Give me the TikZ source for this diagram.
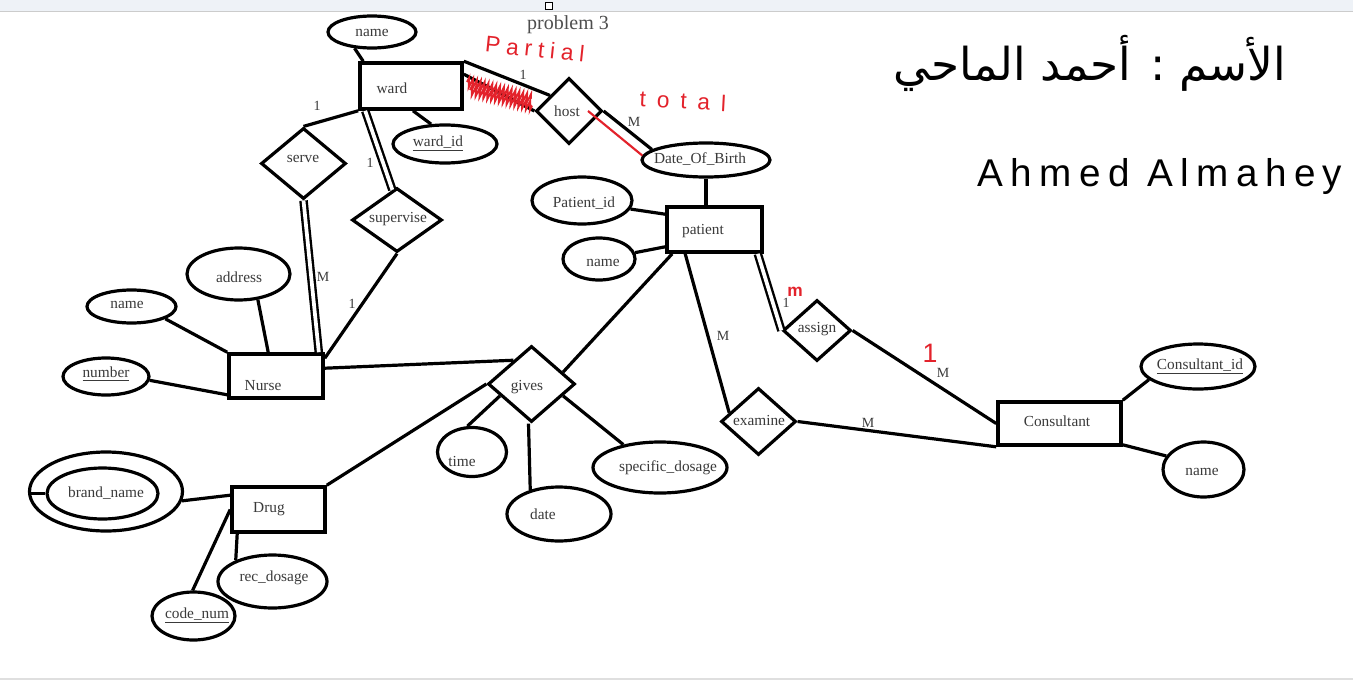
\documentclass[tikz,border=0pt]{standalone}
\usepackage{fontspec}
\setmainfont{Liberation Serif}
\newfontfamily\arabicfont[Script=Arabic]{DejaVu Sans}
\newfontfamily\handfont{Liberation Sans}
\TeXXeTstate=1
\usetikzlibrary{shapes.geometric,calc,decorations.pathmorphing}
\definecolor{ink}{HTML}{3A3A3A}
\definecolor{hred}{HTML}{E3222B}
\definecolor{barbg}{HTML}{EEF2F7}
\begin{document}
\begin{tikzpicture}[x=0.75pt,y=-0.75pt,
  ent/.style={draw, line width=2.7pt, rectangle, inner sep=0pt},
  att/.style={draw, line width=2.4pt, ellipse, inner sep=0pt},
  rel/.style={draw, line width=2.4pt, diamond, inner sep=0pt},
  sz/.style 2 args={minimum width=#1*0.75pt, minimum height=#2*0.75pt},
  lbl/.style={font=\fontsize{11.5}{13}\selectfont, text=ink, inner sep=0pt},
  card/.style={font=\fontsize{10.5}{12}\selectfont, text=ink, inner sep=0pt},
  lnk/.style={line width=2.4pt},
  dbl/.style={line width=1.8pt, double=white, double distance=2.8pt},
  redlnk/.style={line width=1.6pt, hred},
  hand/.style={text=hred, inner sep=0pt}
]
\useasboundingbox (0,0) rectangle (1353,682);
\fill[white] (0,0) rectangle (1353,682);
\fill[barbg] (0,0) rectangle (1353,11);
\draw[gray!40, line width=0.6pt] (0,11) -- (1353,11);
\draw[line width=0.8pt, fill=white] (545.5,2.5) rectangle (552.5,9.5);
\draw[gray!25, line width=1pt] (0,679) -- (1353,679);

% ---------- shapes ----------
\node[ent, sz={102}{46}] (ward) at (411,86) {};
\node[lbl] (wardt) at (392,88) {ward};
\node[att, sz={88}{32}] (wname) at (372,32) {};
\node[lbl] (wnamet) at (372,33) {name};
\node[att, sz={104}{38}] (wid) at (445,144) {};
\node[lbl] (widt) at (438,143) {\underline{ward\_id}};
\node[rel, sz={66}{66}] (host) at (569,111) {};
\node[lbl] (hostt) at (567,111) {host};
\node[att, sz={128}{34}] (dob) at (706,160) {};
\node[lbl] (dobt) at (700,159) {Date\_Of\_Birth};
\node[font=\fontsize{15}{17}\selectfont, text=ink!90] (title) at (568,25) {problem 3};

\node[ent, sz={95}{45}] (patient) at (714.5,229.5) {};
\node[lbl] (patientt) at (703,231) {patient};
\node[att, sz={100}{47}] (pid) at (582,200.5) {};
\node[lbl] (pidt) at (584,203) {Patient\_id};
\node[att, sz={72}{42}] (pname) at (599,259) {};
\node[lbl] (pnamet) at (603,263) {name};

\node[rel, sz={85}{71}] (serve) at (303.5,163.5) {};
\node[lbl] (servet) at (303,159) {serve};
\node[rel, sz={90}{64}] (superv) at (397,220) {};
\node[lbl] (supervt) at (398,219) {supervise};

\node[ent, sz={94}{44}] (nurse) at (276,376) {};
\node[lbl] (nurset) at (263,386) {Nurse};
\node[att, sz={103}{52}] (addr) at (238.5,274) {};
\node[lbl] (addrt) at (239,277) {address};
\node[att, sz={89}{33}] (nname) at (131.5,306.5) {};
\node[lbl] (nnamet) at (127,305) {name};
\node[att, sz={86}{37}] (number) at (106,376.5) {};
\node[lbl] (numbert) at (106,374) {\underline{number}};

\node[rel, sz={87}{76}] (gives) at (531.5,384) {};
\node[lbl] (givest) at (527,387) {gives};
\node[att, sz={69}{49}] (time) at (472,452) {};
\node[lbl] (timet) at (462,461) {time};
\node[att, sz={104}{54}] (date) at (559,514) {};
\node[lbl] (datet) at (543,514) {date};
\node[att, sz={134}{51}] (sd) at (660,467.5) {};
\node[lbl] (sdt) at (668,468) {specific\_dosage};

\node[ent, sz={93}{45}] (drug) at (278.5,509.5) {};
\node[lbl] (drugt) at (269,509) {Drug};
\node[att, sz={153}{79}] (bouter) at (106,491.5) {};
\node[att, sz={111}{51}] (binner) at (102.5,493.5) {};
\node[lbl] (brandt) at (106,493) {brand\_name};
\node[att, sz={109}{53}] (rec) at (272.5,581.5) {};
\node[lbl] (rect) at (274,578) {rec\_dosage};
\node[att, sz={83}{48}] (code) at (193.5,616) {};
\node[lbl] (codet) at (197,615) {\underline{code\_num}};

\node[rel, sz={68}{61}] (assign) at (817,330.5) {};
\node[lbl] (assignt) at (817,329) {assign};
\node[rel, sz={75}{67}] (examine) at (758.5,421.5) {};
\node[lbl] (examinet) at (759,420) {examine};

\node[ent, sz={123}{43}] (cons) at (1059.5,423.5) {};
\node[lbl] (const) at (1057,421) {Consultant};
\node[att, sz={114}{45}] (cid) at (1198,366.5) {};
\node[lbl] (cidt) at (1200,366) {\underline{Consultant\_id}};
\node[att, sz={81}{55}] (cname) at (1203.5,469.5) {};
\node[lbl] (cnamet) at (1202,472) {name};

% ---------- connectors ----------
\draw[lnk] (wname.223) -- ($(ward.north west)+(5,0)$);
\draw[lnk] (ward.north east) -- ($(host.west)!0.45!(host.north)$);
\draw[lnk] ($(ward.north east)+(0,13)$) -- (host.west);
\draw[lnk] (host.east) -- (dob.169);
\draw[redlnk] ($(host.center)!0.55!(host.east)$) -- (dob.176);
\draw[lnk] (dob.south) -- (dob.south |- patient.north);
\draw[lnk] (pid.-10) -- ($(patient.north west)+(0,9)$);
\draw[lnk] (pname.10) -- ($(patient.south west)+(0,-7)$);
\draw[lnk] ($(ward.south)+(2,0)$) -- (wid.125);
\draw[lnk] (ward.south west) -- (serve.north);
\draw[dbl] ($(ward.south west)+(7,0)$) -- ($(superv.north)!0.1!(superv.west)$);
\draw[dbl] (serve.south) -- ($(nurse.north east)+(-6,0)$);
\draw[lnk] (superv.south) -- ($(nurse.north east)+(0,6)$);
\draw[lnk] (addr.-53) -- ($(nurse.north west)+(41,0)$);
\draw[lnk] (nname.-20) -- (nurse.north west);
\draw[lnk] (number.-5) -- ($(nurse.south west)+(0,-5)$);
\draw[lnk] ($(nurse.north east)+(0,16)$) -- ($(gives.west)!0.6!(gives.north)$);
\draw[lnk] ($(patient.south west)+(7,0)$) -- ($(gives.east)!0.3!(gives.north)$);
\draw[lnk] (drug.north east) -- (gives.west);
\draw[lnk] ($(gives.west)!0.3!(gives.south)$) -- (time.100);
\draw[lnk] ($(gives.south)+(-3,0)$) -- (date.140);
\draw[lnk] ($(gives.east)!0.3!(gives.south)$) -- (sd.148);
\draw[lnk] ($(patient.south west)+(20,0)$) -- ($(examine.west)!0.25!(examine.north)$);
\draw[dbl] ($(patient.south east)+(-6,0)$) -- (assign.west);
\draw[lnk] (assign.east) -- (cons.west);
\draw[lnk] (examine.east) -- (cons.south west);
\draw[lnk] (cons.north east) -- (cid.195);
\draw[lnk] ($(cons.south east)+(0,-2)$) -- (cname.160);
\draw[lnk] (bouter.-7) -- ($(drug.north west)+(0,10)$);
\draw[lnk] (binner.west) -- (binner.west -| bouter.west);
\draw[lnk] ($(drug.south west)+(7,0)$) -- (rec.150);
\draw[lnk] (drug.west) -- (code.92);

% ---------- cardinalities ----------
\node[card] (c1) at (523,75) {1};
\node[card] (c2) at (634,122) {M};
\node[card] (c3) at (317,106) {1};
\node[card] (c4) at (370,163) {1};
\node[card] (c5) at (323,277) {M};
\node[card] (c6) at (352,304) {1};
\node[card] (c7) at (723,336) {M};
\node[card] (c8) at (786,303) {1};
\node[card] (c9) at (943,373) {M};
\node[card] (c10) at (868,423) {M};

% ---------- red handwriting ----------
\draw[redlnk, line width=1.4pt, decorate, decoration={zigzag, amplitude=3.5pt, segment length=3pt}]
  (467,82) -- (531,99);
\draw[redlnk, line width=1.4pt, decorate, decoration={zigzag, amplitude=3.5pt, segment length=3pt}]
  (470,90) -- (532,106);
\node[hand, font=\handfont\fontsize{17}{20}\selectfont\addfontfeatures{LetterSpace=26}, rotate=-6] (partial) at (535,49) {Partial};
\node[hand, font=\handfont\fontsize{17}{20}\selectfont\addfontfeatures{LetterSpace=48}, rotate=-3] (total) at (683,101) {total};
\node[hand, font=\handfont\bfseries\fontsize{13}{14}\selectfont] (rm) at (795,292) {m};
\node[hand, font=\handfont\fontsize{20}{22}\selectfont] (r1) at (930,353) {1};

% ---------- author ----------
\node[font=\arabicfont\fontsize{34}{38}\selectfont, inner sep=0pt] (arab) at (1090,63) {\beginR الأسم : أحمد الماحي\endR};
\node[font=\handfont\fontsize{29}{32}\selectfont\addfontfeatures{LetterSpace=19}, inner sep=0pt] (latin) at (1160,176) {Ahmed Almahey};
\end{tikzpicture}
\end{document}
